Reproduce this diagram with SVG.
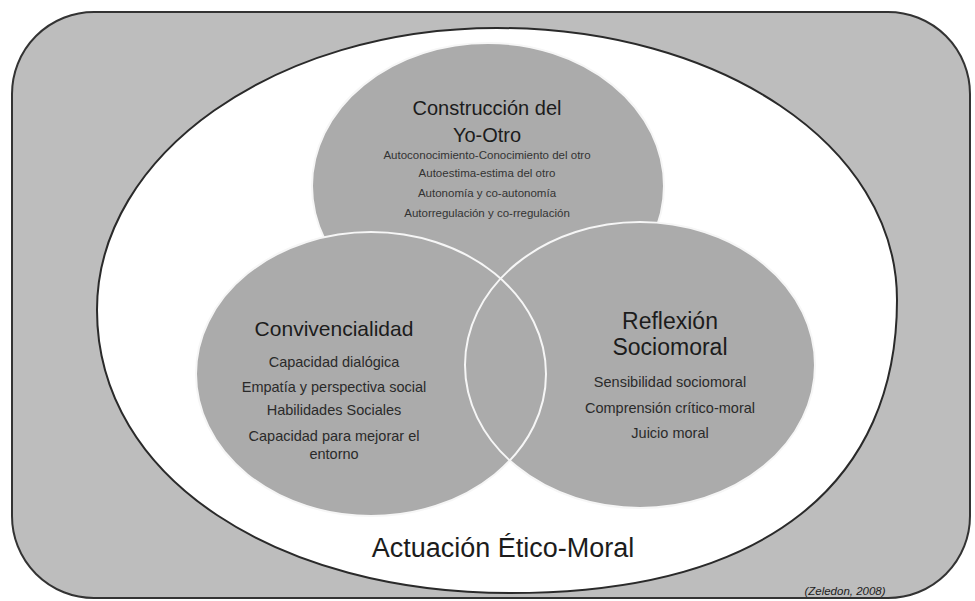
<svg xmlns="http://www.w3.org/2000/svg" width="975" height="601" viewBox="0 0 975 601">
<style>
.t{font-family:"Liberation Sans",Arial,sans-serif;fill:#1c1c1c;text-anchor:middle}
.s{font-size:11.5px;fill:#333}
.m{font-size:14.5px;fill:#2a2a2a}
.c{fill:#ababab;stroke:none}
.o{fill:none;stroke:#f6f6f6;stroke-width:2}
</style>
<rect width="975" height="601" fill="#ffffff"/>
<g id="frame">
<rect x="12" y="12" width="958" height="586" rx="82" ry="82" fill="#bdbdbd" stroke="#333333" stroke-width="2"/>
<path d="M97,310 C97,154 276,28 497,28 C718,28 897,144 897,300 C897,480 770,593 510,593 C280,593 97,480 97,310 Z" fill="#ffffff" stroke="#2a2a2a" stroke-width="2"/>
</g>
<g id="top">
<ellipse class="c" cx="488" cy="186" rx="176" ry="143"/>
<ellipse class="o" cx="488" cy="186" rx="176" ry="143"/>
</g>
<g id="left">
<ellipse class="c" cx="371" cy="374" rx="175" ry="142"/>
</g>
<g id="right">
<ellipse class="c" cx="640" cy="365" rx="175" ry="143"/>
</g>
<g id="outlines">
<ellipse class="o" cx="371" cy="374" rx="175" ry="142"/>
<ellipse class="o" cx="640" cy="365" rx="175" ry="143"/>
</g>
<g id="top-text">
<text class="t" x="487" y="115" style="font-size:20px">Construcción del</text>
<text class="t" x="487" y="142" style="font-size:20px">Yo-Otro</text>
<text class="t s" x="487" y="159">Autoconocimiento-Conocimiento del otro</text>
<text class="t s" x="487" y="177">Autoestima-estima del otro</text>
<text class="t s" x="487" y="197">Autonomía y co-autonomía</text>
<text class="t s" x="487" y="217">Autorregulación y co-rregulación</text>
</g>
<g id="left-text">
<text class="t" x="334" y="336" style="font-size:21px">Convivencialidad</text>
<text class="t m" x="334" y="367">Capacidad dialógica</text>
<text class="t m" x="334" y="392">Empatía y perspectiva social</text>
<text class="t m" x="334" y="415">Habilidades Sociales</text>
<text class="t m" x="334" y="441">Capacidad para mejorar el</text>
<text class="t m" x="334" y="459">entorno</text>
</g>
<g id="right-text">
<text class="t" x="670" y="329" style="font-size:23px">Reflexión</text>
<text class="t" x="670" y="355" style="font-size:23px">Sociomoral</text>
<text class="t m" x="670" y="387">Sensibilidad sociomoral</text>
<text class="t m" x="670" y="413">Comprensión crítico-moral</text>
<text class="t m" x="670" y="438">Juicio moral</text>
</g>
<g id="bottom">
<text class="t" x="503" y="557" style="font-size:27px">Actuación Ético-Moral</text>
<text class="t" x="845" y="595" style="font-size:11.5px;font-style:italic">(Zeledon, 2008)</text>
</g>
</svg>
